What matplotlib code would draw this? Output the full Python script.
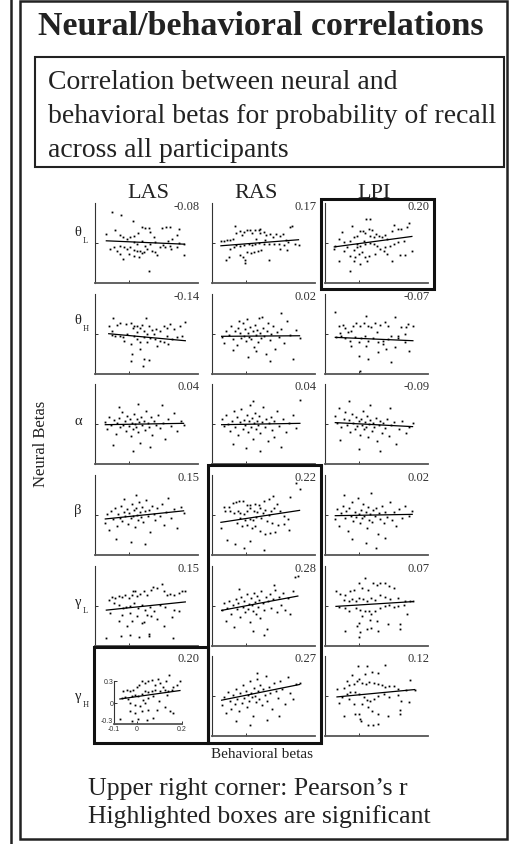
import matplotlib
matplotlib.use("Agg")
import matplotlib.pyplot as plt
import numpy as np
from matplotlib.patches import Rectangle

FIG_W, FIG_H = 510, 845
SERIF = ["Liberation Serif", "DejaVu Serif"]
SANS = ["Liberation Sans", "DejaVu Sans"]
INK = "#222222"

COLUMNS = ["LAS", "RAS", "LPI"]
ROW_GREEK = ["θ", "θ", "α", "β", "γ", "γ"]
ROW_SUB = ["L", "H", "", "", "L", "H"]

# Pearson's r printed in the upper right corner (rows x columns)
PEARSON_R = [
    ["-0.08", "0.17", "0.20"],
    ["-0.14", "0.02", "-0.07"],
    ["0.04", "0.04", "-0.09"],
    ["0.15", "0.22", "0.02"],
    ["0.15", "0.28", "0.07"],
    ["0.20", "0.27", "0.12"],
]
# least squares fit lines
FIT_SLOPE = [
    [-0.111, 0.200, 0.347],
    [-0.236, 0.018, -0.111],
    [0.044, 0.044, -0.133],
    [0.267, 0.391, 0.044],
    [0.267, 0.484, 0.160],
    [0.445, 0.518, 0.244],
]
FIT_INTERCEPT = [
    [0.009, -0.006, -0.004],
    [-0.012, -0.016, -0.033],
    [-0.002, -0.002, 0.001],
    [-0.011, -0.026, -0.002],
    [-0.013, 0.002, 0.008],
    [0.082, 0.006, 0.009],
]
SIGNIFICANT = [(0, 2), (3, 1), (4, 1), (5, 1), (5, 0)]

# scatter points in thousandths: (behavioral beta, neural beta)
THETA_L_LAS = [
    (-50, 230), (-23, 212), (11, 168), (-67, 68), (-43, 100), (-28, 62), (-18, 48), (-7, 30), (3, 48), (13, 55),
    (24, 72), (37, 122), (47, 112), (56, 112), (59, 80), (71, 42), (95, 112), (108, 118), (117, 122), (144, 108),
    (139, 62), (112, 18), (124, 30), (146, -2), (158, -8), (160, -88), (139, -32), (121, -45), (105, -28), (90, -32),
    (82, -88), (76, -70), (66, -62), (51, -45), (42, -70), (32, -58), (22, -62), (13, -52), (3, -32), (-7, -45),
    (-16, -28), (-28, -82), (-18, -120), (-36, -58), (-55, -45), (-46, -32), (-2, -82), (13, -95), (27, -108), (37, -78),
    (56, -208), (47, -20), (61, -8), (22, -8), (13, 5), (37, 18), (76, 5), (98, -12), (119, -20), (-28, -20),
]
THETA_L_RAS = [
    (-34, 125), (-74, 12), (-64, 12), (-56, 20), (-47, 25), (-39, 32), (-29, 75), (-19, 90), (-13, 58), (-8, 82),
    (2, 95), (10, 100), (16, 75), (26, 100), (36, 100), (41, 108), (39, 75), (50, 82), (58, 58), (70, 65),
    (78, 45), (87, 70), (97, 50), (107, 65), (116, 25), (128, 120), (133, 128), (143, -5), (152, -18), (120, 8),
    (109, -18), (94, -5), (80, -5), (65, -10), (50, -5), (36, 0), (26, -10), (16, -18), (7, -5), (-8, -18),
    (-19, -25), (-29, -18), (-37, -30), (-49, -42), (-58, -130), (-51, -105), (-19, -92), (-10, -105), (-3, -130), (-3, -150),
    (2, -68), (14, -75), (23, -68), (33, -60), (43, -50), (65, -130), (99, -42), (118, -55), (55, 20), (29, 32),
]
THETA_L_LPI = [
    (20, 180), (30, 180), (-21, 130), (-50, 80), (-70, -20), (-73, -45), (-60, 30), (-46, 5), (-36, -32), (-26, 18),
    (-16, 42), (-7, 55), (3, 88), (11, 92), (17, 72), (27, 105), (37, 98), (32, 55), (42, 48), (49, 68),
    (56, 55), (66, 42), (76, 62), (82, 30), (95, 92), (102, 138), (114, 105), (121, 105), (139, 118), (146, 148),
    (129, 18), (114, 5), (100, -8), (88, -20), (76, -32), (61, -45), (51, -20), (42, -8), (30, -2), (17, -8),
    (3, -20), (-7, -32), (-16, -52), (-28, -95), (-16, -132), (-12, -108), (-2, -82), (8, -70), (17, -108), (27, -95),
    (22, -132), (3, -158), (-28, -212), (-60, -132), (47, -82), (81, -82), (95, -132), (117, -90), (134, -90), (153, -62),
    (71, -58), (13, 18), (-7, -8), (-46, -58),
]
THETA_H_LAS = [
    (-48, 118), (-60, 62), (-50, 25), (-36, 68), (-26, 82), (-9, 75), (5, 82), (13, 62), (11, 42), (22, 62),
    (30, 42), (37, 68), (49, 118), (42, 25), (56, 58), (66, 32), (79, 38), (88, 25), (100, 62), (110, 42),
    (119, 75), (129, 38), (148, 62), (163, 88), (153, -12), (139, -25), (124, -38), (114, -75), (100, -62), (88, -50),
    (76, -38), (61, -32), (51, -58), (42, -25), (32, -62), (22, -38), (13, -12), (5, -75), (-7, 0), (-18, -25),
    (-28, -12), (-41, -12), (-50, -8), (8, -150), (5, -200), (42, -188), (56, -192), (40, -242), (-16, -50), (32, -112),
    (71, 0), (110, -12), (80, -88), (51, 0), (22, 12),
]
THETA_H_RAS = [
    (-72, -20), (-64, -70), (-58, 25), (-50, -5), (-44, 60), (-38, -40), (-33, 20), (-28, -85), (-24, 45), (-19, 5),
    (-15, -30), (-11, 80), (-7, -12), (-3, 35), (0, -55), (3, 110), (6, 10), (9, -20), (12, 55), (15, -40),
    (18, 25), (21, -95), (24, 70), (27, -10), (30, 30), (33, -60), (36, 120), (40, 5), (44, -30), (48, 45),
    (52, -15), (56, -150), (60, 20), (64, 85), (68, -45), (73, 0), (78, 60), (84, -110), (90, 15), (96, -25),
    (102, 40), (110, -70), (118, 100), (126, -10), (135, -185), (145, 30), (155, -30), (-40, -120), (5, -175), (28, -130),
    (70, -200), (100, 160), (-20, 95), (45, 130),
]
THETA_H_LPI = [
    (-70, 168), (-60, 62), (-48, 68), (-41, 42), (-33, 12), (-23, 25), (-18, 62), (-9, 82), (1, 62), (14, 82),
    (20, 138), (25, 62), (35, 50), (45, 82), (52, 18), (59, 68), (74, 88), (83, 62), (103, 125), (120, 50),
    (137, 50), (142, 75), (156, 58), (-67, -25), (-52, -12), (-43, -32), (-28, -50), (-14, -25), (-2, -58), (6, -32),
    (16, -12), (25, -50), (40, -32), (54, -62), (69, -50), (83, -38), (93, -12), (113, -32), (132, -62), (146, -125),
    (103, -100), (79, -112), (54, -138), (25, -188), (-2, -162), (1, -275), (93, -212), (69, -75), (20, -88), (-23, -88),
    (-57, 8), (132, 0), (113, -12),
]
ALPHA_LAS = [
    (-70, 15), (-65, -40), (-58, 55), (-52, -10), (-46, 30), (-40, -75), (-35, 5), (-30, 45), (-26, -25), (-22, 90),
    (-18, -5), (-14, 20), (-10, -50), (-6, 60), (-2, -15), (2, 35), (5, -90), (8, 10), (11, -35), (14, 75),
    (17, 0), (20, -20), (23, 40), (26, -60), (29, 15), (32, -140), (35, 55), (38, -10), (42, 25), (46, -45),
    (50, 100), (54, 5), (58, -25), (62, 50), (67, -80), (72, 20), (78, -5), (84, 65), (90, -30), (97, 10),
    (105, -115), (112, 40), (120, -15), (130, 80), (140, -50), (150, 20), (158, -10), (-48, -160), (10, -200), (60, -175),
    (25, 150), (-30, 130), (95, 140),
]
ALPHA_RAS = [
    (-72, 40), (-66, -15), (-60, 70), (-54, 0), (-48, -55), (-42, 25), (-37, 95), (-32, -20), (-28, 50), (-23, -85),
    (-19, 15), (-15, 110), (-11, -35), (-7, 30), (-3, -5), (1, 65), (4, -60), (7, 20), (10, 140), (13, -20),
    (16, 45), (19, -110), (22, 10), (25, 80), (28, -40), (31, 25), (34, -5), (37, 60), (41, -70), (45, 15),
    (49, 130), (53, -25), (57, 35), (62, -130), (66, 5), (71, 55), (76, -45), (82, 20), (88, 95), (94, -15),
    (100, -170), (108, 40), (116, -60), (125, 10), (135, 70), (146, -30), (156, 180), (-40, -150), (0, -180), (40, -200),
    (80, -100), (20, 170),
]
ALPHA_LPI = [
    (-70, 60), (-64, 10), (-58, 120), (-52, -25), (-46, 40), (-41, 90), (-36, -10), (-31, 30), (-27, -60), (-22, 75),
    (-18, 5), (-14, -35), (-10, 50), (-6, -15), (-2, 20), (2, -80), (5, 35), (8, -5), (11, 100), (14, -40),
    (17, 15), (20, -20), (23, 60), (26, -100), (29, 0), (32, 30), (36, -55), (40, 10), (44, -25), (48, 45),
    (52, -130), (56, -5), (60, 25), (65, -70), (70, 5), (75, -30), (81, 40), (87, -90), (93, -10), (100, 15),
    (108, -150), (116, -40), (125, 20), (135, -65), (145, -20), (155, 10), (-30, 170), (0, -190), (60, -200), (30, 140),
    (-55, -120), (90, 120),
]
BETA_LAS = [
    (-70, -60), (-64, 10), (-58, -110), (-52, 30), (-47, -30), (-42, 55), (-37, -80), (-33, 5), (-28, -20), (-24, 70),
    (-20, -45), (-16, 20), (-12, -10), (-8, 45), (-4, -65), (0, 15), (4, -25), (7, 80), (10, -5), (13, 35),
    (16, -90), (19, 50), (22, 0), (25, -35), (28, 95), (31, 20), (34, -15), (37, 60), (41, -50), (45, 30),
    (49, 110), (53, -5), (57, 40), (61, -130), (66, 70), (71, 10), (76, -40), (82, 55), (88, -10), (94, 85),
    (100, -75), (107, 25), (114, 130), (122, -20), (131, 45), (140, -100), (150, 60), (158, 15), (-40, -180), (5, -200),
    (45, -220), (20, 150), (-15, 120),
]
BETA_RAS = [
    (146, 240), (155, 198), (126, 132), (78, 140), (65, 122), (50, 108), (36, 78), (26, 82), (12, 72), (2, 78),
    (-10, 102), (-22, 108), (-29, 98), (-39, 90), (-51, 58), (-64, 58), (-61, 28), (-47, 32), (-37, 15), (-25, 28),
    (-17, 15), (-8, 8), (2, 32), (12, 52), (21, 28), (31, 22), (39, 52), (49, 15), (55, 40), (65, 2),
    (72, 28), (81, 52), (89, 82), (99, 28), (109, -10), (120, -28), (-17, -22), (-3, -35), (10, -28), (19, -35),
    (29, -18), (43, -22), (60, -48), (75, -60), (91, -72), (109, -68), (123, -110), (-27, -60), (-13, -85), (2, -72),
    (16, -98), (26, -85), (41, -122), (55, -142), (70, -135), (84, -128), (-56, -185), (-32, -218), (-6, -248), (52, -260),
    (-74, -98), (10, -198),
]
BETA_LPI = [
    (-70, -30), (-65, 45), (-59, -80), (-53, 15), (-48, 70), (-43, -20), (-38, 30), (-34, -120), (-29, 55), (-25, -5),
    (-21, 95), (-17, -45), (-13, 20), (-9, -15), (-5, 130), (-1, 5), (3, -60), (6, 40), (9, -25), (12, 80),
    (15, -5), (18, 25), (21, -100), (24, 60), (27, -35), (30, 10), (33, 165), (37, -50), (41, 35), (45, -10),
    (49, 50), (53, -140), (57, 15), (61, -30), (66, 70), (71, -60), (76, 25), (82, -15), (88, 100), (94, -40),
    (100, 20), (107, -85), (115, 45), (124, -20), (134, 65), (144, -5), (154, 30), (-20, -180), (20, -210), (50, -250),
    (75, -170), (-45, 150),
]
GAMMA_L_LAS = [
    (-67, -240), (-24, -228), (3, -220), (27, -235), (56, -228), (127, -240), (-60, 48), (-50, 65), (-41, 60), (-31, 72),
    (-21, 65), (-12, 80), (-2, 60), (8, 85), (11, 115), (17, 110), (22, 72), (32, 90), (42, 110), (51, 85),
    (63, 122), (69, 140), (81, 135), (95, 165), (100, 110), (110, 80), (119, 90), (131, 85), (144, 98), (153, 110),
    (163, 110), (-44, 22), (-31, 10), (-18, -15), (-9, -10), (1, -2), (13, 22), (24, -15), (37, 10), (47, -28),
    (59, -10), (71, -40), (88, 10), (105, -10), (129, -28), (144, -35), (-55, -52), (-31, -110), (-21, -70), (3, -52),
    (22, -78), (37, -128), (51, -65), (63, -78), (81, -95), (100, -152), (124, -85), (-7, -152), (8, -115), (42, -120),
    (56, -210),
]
GAMMA_L_RAS = [
    (-72, -30), (-66, 25), (-60, -110), (-55, -15), (-50, 40), (-45, -60), (-40, 10), (-35, -155), (-31, 55), (-27, -25),
    (-23, 20), (-19, -80), (-15, 70), (-11, -5), (-7, 35), (-3, -45), (1, 90), (4, -20), (7, 15), (10, -120),
    (13, 60), (16, 5), (19, -35), (22, 100), (25, 30), (28, -60), (31, 75), (34, -10), (37, 45), (40, -90),
    (44, 110), (48, 20), (52, -30), (56, 65), (60, -170), (64, 35), (68, 90), (73, -15), (78, 55), (83, 120),
    (88, -45), (94, 70), (100, 10), (106, 95), (113, -30), (120, 60), (128, -60), (135, 110), (143, 220), (150, 225),
    (20, -190), (50, -220), (-20, 130), (80, 160),
]
GAMMA_L_LPI = [
    (-68, 110), (-55, 90), (-41, 80), (-26, 110), (-16, 122), (0, 172), (8, 135), (17, 210), (25, 122), (39, 172),
    (51, 155), (61, 172), (74, 172), (87, 148), (100, 135), (-46, 48), (-31, 40), (-21, 55), (-10, 40), (0, 60),
    (10, 55), (22, 40), (35, 60), (47, 48), (61, 80), (76, 65), (90, 55), (114, 60), (134, 40), (148, 35),
    (155, 40), (-60, -10), (-43, -15), (-31, -35), (-10, -15), (3, -28), (16, -35), (27, -40), (35, -60), (45, -35),
    (61, -15), (76, -2), (85, 10), (100, -10), (114, -2), (129, 5), (139, -60), (0, -128), (-7, -152), (3, -195),
    (0, -235), (22, -170), (35, -165), (54, -190), (51, -110), (83, -135), (119, -135), (119, -170), (-43, -185), (32, -102),
    (8, -78),
]
GAMMA_H_LAS = [
    (-74, -230), (-22, -253), (7, -226), (44, -240), (71, -216), (-29, -123), (-7, -146), (22, -123), (51, -100), (37, -7),
    (-7, -30), (15, -53), (-59, 156), (-44, 179), (-29, 156), (-15, 179), (0, 212), (12, 249), (22, 295), (37, 272),
    (51, 305), (66, 318), (81, 249), (96, 332), (103, 272), (118, 212), (129, 295), (144, 388), (159, 212), (176, 240),
    (191, 295), (-66, 63), (-51, 72), (-37, 53), (-22, 86), (-7, 109), (7, 86), (22, 119), (37, 156), (51, 146),
    (66, 165), (81, 179), (103, 165), (125, 179), (140, 156), (154, 179), (-29, -7), (51, 63), (74, 86), (100, 16),
    (125, -67), (147, -123), (162, -146), (88, -100), (135, 109), (29, 40),
]
GAMMA_H_RAS = [
    (-72, -70), (-66, -10), (-60, -130), (-54, 30), (-49, -40), (-44, -95), (-39, 10), (-34, -60), (-30, 50), (-26, -20),
    (-22, -110), (-18, 20), (-14, -50), (-10, 80), (-6, -15), (-2, 40), (2, -85), (5, 10), (8, -35), (11, 110),
    (14, 25), (17, -10), (20, -150), (23, 60), (26, 0), (29, -45), (32, 130), (35, 35), (38, -20), (41, 85),
    (45, -70), (49, 50), (53, 10), (57, 150), (61, -40), (65, 70), (70, 25), (75, -100), (80, 95), (86, 40),
    (92, -15), (98, 115), (105, 55), (112, -60), (120, 140), (128, 20), (136, -25), (145, 90), (155, 100), (-30, -190),
    (10, -220), (60, -180), (95, -150), (30, 170),
]
GAMMA_H_LPI = [
    (-4, 222), (22, 222), (74, 230), (16, 162), (0, 130), (37, 180), (54, 172), (-21, 155), (-36, 112), (-46, 62),
    (-31, 80), (-16, 92), (-7, 112), (8, 98), (19, 92), (29, 105), (42, 98), (54, 88), (66, 80), (74, 68),
    (85, 72), (100, 72), (114, 55), (136, 42), (149, 118), (161, 48), (-65, 55), (-58, -52), (-50, -8), (-36, 18),
    (-26, 30), (-12, 30), (0, 12), (13, -8), (22, -28), (32, -38), (42, -20), (54, -2), (71, 12), (85, -8),
    (114, 5), (122, -38), (144, -45), (-16, -58), (8, -62), (25, -82), (37, -112), (54, -132), (119, -108), (119, -138),
    (83, -152), (-46, -152), (-12, -138), (3, -170), (6, -188), (25, -220), (39, -220), (54, -212), (-2, -132), (-31, -20),
]

POINTS = [
    [THETA_L_LAS, THETA_L_RAS, THETA_L_LPI],
    [THETA_H_LAS, THETA_H_RAS, THETA_H_LPI],
    [ALPHA_LAS, ALPHA_RAS, ALPHA_LPI],
    [BETA_LAS, BETA_RAS, BETA_LPI],
    [GAMMA_L_LAS, GAMMA_L_RAS, GAMMA_L_LPI],
    [GAMMA_H_LAS, GAMMA_H_RAS, GAMMA_H_LPI],
]

# layout in pixels of the 510x845 canvas
PANEL_LEFT = [95, 212, 325]
PANEL_TOP = [204, 295, 385, 476, 567, 657]
PANEL_W, PANEL_H = 103, 80
HEADER_X = [148, 256, 374]
INSET = (114, 682, 68, 43)  # the one panel drawn with tick labels
BOX_X = [94, 208, 321, 434]  # column edges of the significance boxes
BOX_Y = [200, 290, 381, 466, 557, 648, 744]  # row edges of the significance boxes
LABEL_DY = [-8, -11, 0, -2, -1, 3]  # baseline of the row letter from the panel middle


def px_axes(fig, x, y, w, h):
    return fig.add_axes([x / FIG_W, 1 - (y + h) / FIG_H, w / FIG_W, h / FIG_H])


def style_panel(ax, labelled):
    ax.set_xlim(-0.1, 0.2)
    ax.set_ylim(-0.3, 0.3)
    ax.set_facecolor("none")
    for side in ("top", "right"):
        ax.spines[side].set_visible(False)
    ax.spines["left"].set_color("#333333")
    ax.spines["left"].set_linewidth(0.8)
    ax.spines["bottom"].set_color("#555555")
    ax.spines["bottom"].set_linewidth(1.3)
    ax.tick_params(direction="in", length=2, width=0.7, colors="#333333", pad=0.5)
    if labelled:
        ax.set_xticks([-0.1, 0, 0.2], ["-0.1", "0", "0.2"])
        ax.set_yticks([-0.3, 0, 0.3], ["-0.3", "0", "0.3"])
        for lab in ax.get_xticklabels() + ax.get_yticklabels():
            lab.set_family(SANS)
            lab.set_fontsize(5)
        # the lowest y label sits just above the corner, clear of "-0.1"
        ax.get_yticklabels()[0].set_verticalalignment("bottom")
    else:
        ax.set_xticks([0], [""])
        ax.set_yticks([0], [""])


def significance_boxes():
    boxes = []
    for col in range(3):
        rows = sorted(r for r, c in SIGNIFICANT if c == col)
        run = []
        for r in rows:
            if run and r != run[-1] + 1:
                boxes.append((col, run[0], run[-1]))
                run = []
            run.append(r)
        if run:
            boxes.append((col, run[0], run[-1]))
    return boxes


fig = plt.figure(figsize=(FIG_W / 100, FIG_H / 100), dpi=100)

for r in range(6):
    for c in range(3):
        pts = np.array(POINTS[r][c], dtype=float) / 1000.0
        labelled = (r, c) == (5, 0)
        if labelled:
            ax = px_axes(fig, *INSET)
        else:
            ax = px_axes(fig, PANEL_LEFT[c], PANEL_TOP[r], PANEL_W, PANEL_H)
        ax.plot(pts[:, 0], pts[:, 1], ls="none", marker="s", ms=1.3, mew=0,
                color="black", clip_on=False)
        xs = np.array([pts[:, 0].min(), pts[:, 0].max()])
        ax.plot(xs, FIT_SLOPE[r][c] * xs + FIT_INTERCEPT[r][c], color="black", lw=0.9)
        style_panel(ax, labelled)

# overlay in pixel coordinates for frames and text
ov = px_axes(fig, 0, 0, FIG_W, FIG_H)
ov.set_xlim(0, FIG_W)
ov.set_ylim(FIG_H, 0)
ov.axis("off")

ov.plot([11, 11], [0, FIG_H], color=INK, lw=1.8)
ov.add_patch(Rectangle((20, 2), 487, 838, fill=False, ec=INK, lw=1.8))
ov.add_patch(Rectangle((35, 58), 469, 110, fill=False, ec=INK, lw=1.5))

ov.text(38, 35, "Neural/behavioral correlations", family=SERIF, fontsize=24.5,
        fontweight="bold", color=INK, va="baseline")
subtitle = ["Correlation between neural and",
            "behavioral betas for probability of recall",
            "across all participants"]
for i, line in enumerate(subtitle):
    ov.text(48, 89 + 34 * i, line, family=SERIF, fontsize=20, color=INK, va="baseline")

for c, name in enumerate(COLUMNS):
    ov.text(HEADER_X[c], 198, name, family=SERIF, fontsize=16, color=INK,
            ha="center", va="baseline")

for r in range(6):
    base = PANEL_TOP[r] + PANEL_H / 2 + LABEL_DY[r]
    ov.text(78, base, ROW_GREEK[r], family=SERIF, fontsize=10.5, color=INK,
            ha="center", va="baseline")
    if ROW_SUB[r]:
        ov.text(82.5, base + 7, ROW_SUB[r], family=SERIF, fontsize=6, color=INK,
                ha="left", va="baseline")
    for c in range(3):
        ov.text(PANEL_LEFT[c] + PANEL_W + 2, PANEL_TOP[r] + 2.5, PEARSON_R[r][c],
                family=SERIF, fontsize=9, color="#333333", ha="right", va="center")

for col, r0, r1 in significance_boxes():
    ov.add_patch(Rectangle((BOX_X[col], BOX_Y[r0]), BOX_X[col + 1] - BOX_X[col],
                           BOX_Y[r1 + 1] - BOX_Y[r0], fill=False, ec="#111111", lw=2.2))

ov.text(41, 444, "Neural Betas", family=SERIF, fontsize=12, color=INK,
        rotation=90, ha="center", va="center")
ov.text(262, 755, "Behavioral betas", family=SERIF, fontsize=11, color=INK,
        ha="center", va="center")
ov.text(88, 795, "Upper right corner: Pearson’s r", family=SERIF, fontsize=18.5,
        color=INK, va="baseline")
ov.text(88, 823, "Highlighted boxes are significant", family=SERIF, fontsize=18.5,
        color=INK, va="baseline")

fig.savefig("out.png", dpi=100)
